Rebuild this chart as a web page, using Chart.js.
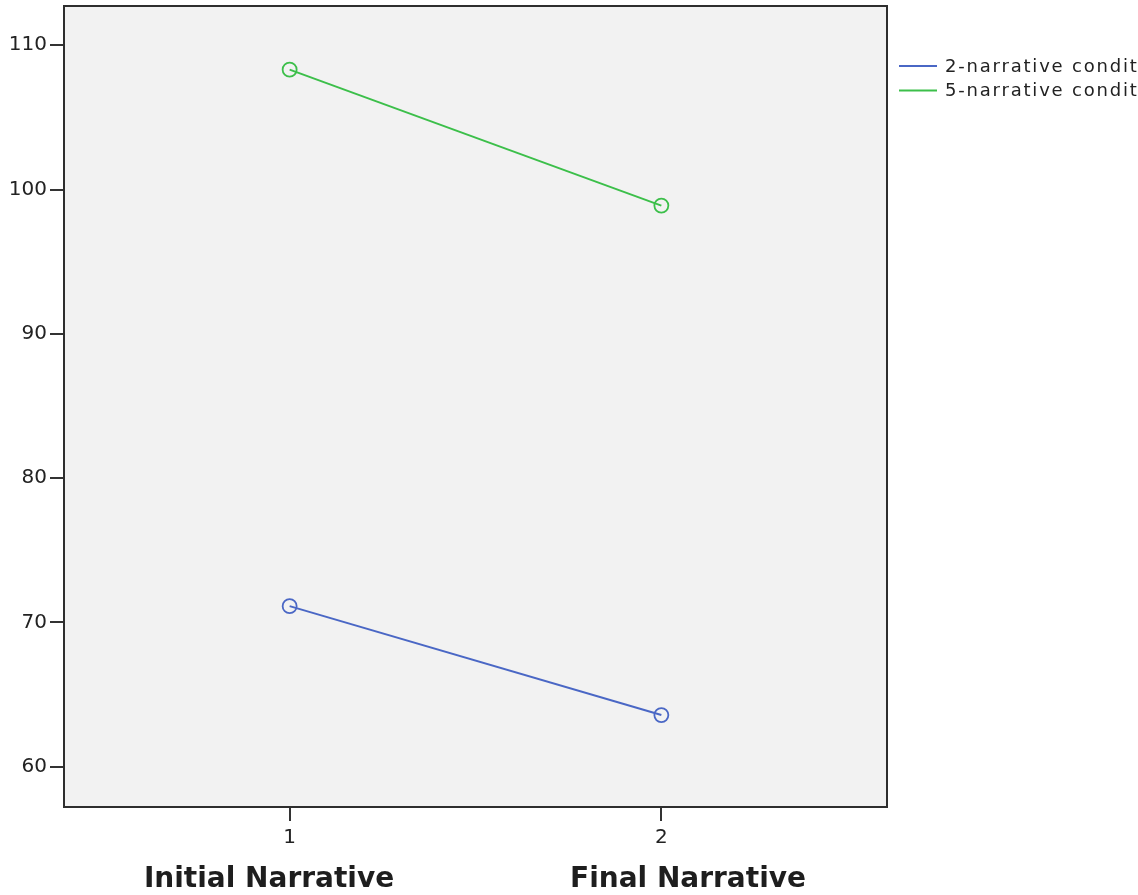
<!DOCTYPE html>
<html>
<head>
<meta charset="utf-8">
<script src="https://cdn.jsdelivr.net/npm/chart.js@4/dist/chart.umd.min.js"></script>
<style>
html,body{margin:0;padding:0;background:#fff;}
#c{display:block;}
</style>
</head>
<body>
<canvas id="c" width="1138" height="895"></canvas>
<script>
// ---- data ----
const xPositions = [1, 2];
const xTickLabels = ['1', '2'];
const xCategoryNames = ['Initial Narrative', 'Final Narrative'];
const yTickValues = [60, 70, 80, 90, 100, 110];
const seriesNames = ['2-narrative condit', '5-narrative condit'];
const twoNarrative = [71.13, 63.58];
const fiveNarrative = [108.31, 98.89];

const blue = '#4a67c5';
const green = '#3cbf4a';

const plotBg = {
  id: 'plotBg',
  beforeDraw(chart) {
    const {ctx, chartArea: a} = chart;
    ctx.save();
    ctx.fillStyle = '#f2f2f2';
    ctx.fillRect(a.left, a.top, a.right - a.left, a.bottom - a.top);
    ctx.restore();
  },
  afterDraw(chart) {
    const {ctx, chartArea: a} = chart;
    ctx.save();
    ctx.strokeStyle = '#2e2e2e';
    ctx.lineWidth = 2;
    ctx.strokeRect(a.left, a.top, a.right - a.left, a.bottom - a.top);
    // category names under the axis
    ctx.fillStyle = '#1e1e1e';
    ctx.font = 'bold 28px "DejaVu Sans"';
    ctx.textAlign = 'center';
    ctx.textBaseline = 'alphabetic';
    const centers = [269, 688];
    xCategoryNames.forEach((t, i) => ctx.fillText(t, centers[i], 887));
    // legend
    ctx.font = '18px "DejaVu Sans"';
    if ('letterSpacing' in ctx) ctx.letterSpacing = '1.8px';
    ctx.textAlign = 'left';
    ctx.textBaseline = 'middle';
    chart.data.datasets.forEach((ds, i) => {
      const y = 66 + i * 24.5;
      ctx.strokeStyle = ds.borderColor;
      ctx.lineWidth = 2;
      ctx.beginPath();
      ctx.moveTo(899, y);
      ctx.lineTo(937, y);
      ctx.stroke();
      ctx.fillStyle = '#222';
      ctx.fillText(ds.label, 945, y + 1);
    });
    if ('letterSpacing' in ctx) ctx.letterSpacing = '0px';
    ctx.restore();
  }
};

new Chart(document.getElementById('c'), {
  type: 'line',
  data: {
    datasets: [
      {
        label: seriesNames[0],
        data: xPositions.map((x, i) => ({x, y: twoNarrative[i]})),
        borderColor: blue,
        backgroundColor: 'rgba(0,0,0,0)',
        borderWidth: 2,
        pointRadius: 7,
        pointBorderWidth: 1.8,
        pointBackgroundColor: 'rgba(0,0,0,0)',
        pointBorderColor: blue,
        tension: 0
      },
      {
        label: seriesNames[1],
        data: xPositions.map((x, i) => ({x, y: fiveNarrative[i]})),
        borderColor: green,
        backgroundColor: 'rgba(0,0,0,0)',
        borderWidth: 2,
        pointRadius: 7,
        pointBorderWidth: 1.8,
        pointBackgroundColor: 'rgba(0,0,0,0)',
        pointBorderColor: green,
        tension: 0
      }
    ]
  },
  options: {
    responsive: false,
    animation: false,
    events: [],
    layout: {autoPadding: false, padding: {left: 0, top: 4, right: 251, bottom: 0}},
    plugins: {legend: {display: false}, tooltip: {enabled: false}},
    scales: {
      x: {
        type: 'linear',
        min: 0.393,
        max: 2.607,
        afterBuildTicks(scale) { scale.ticks = xPositions.map(v => ({value: v})); },
        afterFit(scale) { scale.height = 88; },
        ticks: {
          callback: (v) => xTickLabels[xPositions.indexOf(v)],
          font: {family: 'DejaVu Sans', size: 20},
          color: '#222',
          padding: 5,
          maxRotation: 0,
          autoSkip: false
        },
        grid: {drawOnChartArea: false, drawTicks: true, tickLength: 14, color: '#333', lineWidth: 2},
        border: {display: false}
      },
      y: {
        type: 'linear',
        min: 57.21,
        max: 112.72,
        afterBuildTicks(scale) { scale.ticks = yTickValues.map(v => ({value: v})); },
        afterFit(scale) { scale.width = 64; },
        ticks: {
          font: {family: 'DejaVu Sans', size: 20, lineHeight: 0.3},
          color: '#222',
          padding: 3
        },
        grid: {drawOnChartArea: false, drawTicks: true, tickLength: 14, color: '#333', lineWidth: 2},
        border: {display: false}
      }
    }
  },
  plugins: [plotBg]
});
</script>
</body>
</html>
